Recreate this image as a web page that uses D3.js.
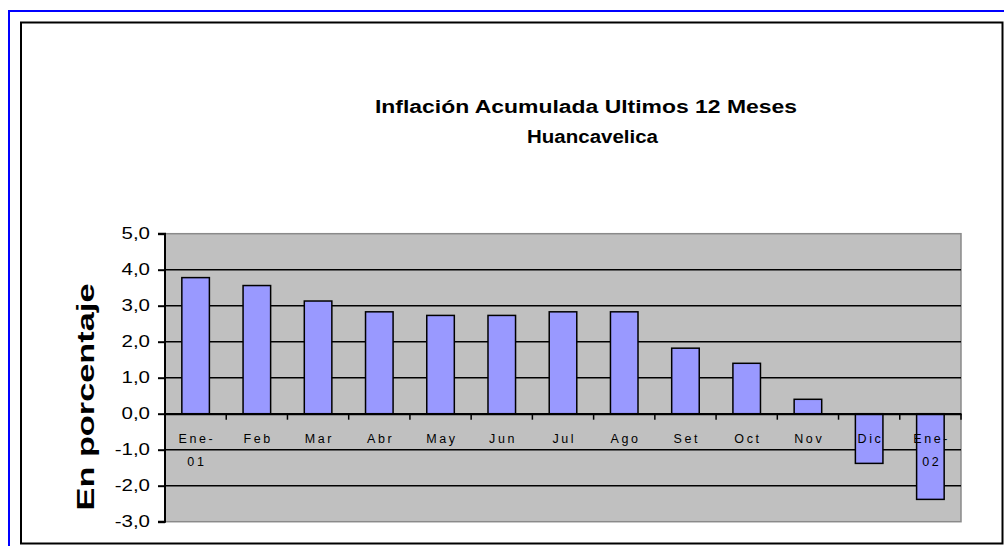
<!DOCTYPE html>
<html><head><meta charset="utf-8">
<script src="https://cdn.jsdelivr.net/npm/d3@7"></script>
<style>body{margin:0;background:#fff}svg{display:block}text{font-family:Arial,"Liberation Sans",sans-serif}</style>
</head><body>
<script>
const categories = [["Ene-","01"],["Feb"],["Mar"],["Abr"],["May"],["Jun"],["Jul"],["Ago"],["Set"],["Oct"],["Nov"],["Dic"],["Ene-","02"]];
const values = [3.78, 3.56, 3.13, 2.83, 2.73, 2.73, 2.83, 2.83, 1.82, 1.4, 0.4, -1.38, -2.38];
const yTicks = [5,4,3,2,1,0,-1,-2,-3];
const titleLines = ["Inflación Acumulada Ultimos 12 Meses", "Huancavelica"];
const yTitle = "En porcentaje";

const W = 1004, H = 546;
const svg = d3.select("body").append("svg").attr("width", W).attr("height", H);

// outer blue frame
svg.append("path").attr("d", "M9,546 L9,11 L1004,11").attr("fill","none").attr("stroke","#0000ff").attr("stroke-width",2);
// inner black frame
svg.append("rect").attr("x",21).attr("y",22.5).attr("width",981.5).attr("height",521).attr("fill","#fff").attr("stroke","#000").attr("stroke-width",2);

const pl = 165, pr = 961, pt = 233.7, pb = 521.7;
const x = d3.scaleBand().domain(d3.range(categories.length)).range([pl, pr]).paddingInner(0.55).paddingOuter(0.275);
const xb = d3.scaleBand().domain(d3.range(categories.length)).range([pl, pr]);
const y = d3.scaleLinear().domain([-3, 5]).range([pb, pt]);

// plot area
svg.append("rect").attr("x",pl).attr("y",pt).attr("width",pr-pl).attr("height",pb-pt).attr("fill","#c0c0c0").attr("stroke","#8a8a8a").attr("stroke-width",1.5);

// gridlines
svg.append("g").selectAll("line").data(yTicks.filter(d=>d!==5 && d!==-3)).join("line")
  .attr("x1",pl).attr("x2",pr).attr("y1",d=>y(d)).attr("y2",d=>y(d))
  .attr("stroke","#000").attr("stroke-width",1.5);

// y axis
const sx = 1.28;
const yAxis = d3.axisLeft(y).tickValues(yTicks).tickSize(7).tickFormat(d=>d3.format(".1f")(d).replace(".",",").replace("\u2212","-"));
const yg = svg.append("g").attr("transform",`translate(${pl},0)`).call(yAxis);
yg.select(".domain").attr("stroke","#000").attr("stroke-width",2).attr("d",`M-7,${pt}H0V${pb}H-7`);
yg.selectAll(".tick line").attr("stroke","#000").attr("stroke-width",2);
yg.selectAll(".tick text").attr("font-size",16).attr("fill","#000").attr("x",-15/sx)
  .attr("transform",`scale(${sx},1)`).attr("font-family","Arial, 'Liberation Sans', sans-serif");

// bars
svg.append("g").selectAll("rect").data(values).join("rect")
  .attr("x",(d,i)=>x(i)).attr("width",x.bandwidth())
  .attr("y",d=>y(Math.max(0,d))).attr("height",d=>Math.abs(y(d)-y(0)))
  .attr("fill","#9999ff").attr("stroke","#000").attr("stroke-width",1.5);

// x axis at zero
const xAxis = d3.axisBottom(xb).tickSize(0).tickFormat("");
const xg = svg.append("g").attr("transform",`translate(0,${y(0)})`).call(xAxis);
xg.select(".domain").attr("stroke","#000").attr("stroke-width",2);
svg.append("g").selectAll("line").data(d3.range(categories.length+1)).join("line")
  .attr("x1",i=>pl+i*xb.step()).attr("x2",i=>pl+i*xb.step())
  .attr("y1",y(0)).attr("y2",y(0)+6).attr("stroke","#000").attr("stroke-width",1.5);

// category labels
const lab = svg.append("g").selectAll("text").data(categories).join("text")
  .attr("font-size",12.5).attr("letter-spacing","2.6px").attr("text-anchor","middle").attr("fill","#000");
lab.each(function(d,i){
  const t = d3.select(this);
  d.forEach((s,k)=>{
    t.append("tspan").attr("x", xb(i)+xb.bandwidth()/2+1.3).attr("y", 443 + k*23).text(s);
  });
});

// title
const titleX = [586, 592.5], titleW = [422, 131];
svg.append("g").selectAll("text").data(titleLines).join("text")
  .attr("x",(d,i)=>titleX[i]).attr("y",(d,i)=>113.3+i*30).attr("text-anchor","middle")
  .attr("textLength",(d,i)=>titleW[i]).attr("lengthAdjust","spacingAndGlyphs")
  .attr("font-size",17.5).attr("font-weight","bold").attr("fill","#000").text(d=>d);

// y title
svg.append("text").attr("transform","translate(94,397) rotate(-90)").attr("text-anchor","middle")
  .attr("textLength",227).attr("lengthAdjust","spacingAndGlyphs")
  .attr("font-size",24).attr("font-weight","bold").attr("fill","#000").text(yTitle);
</script>
</body></html>
